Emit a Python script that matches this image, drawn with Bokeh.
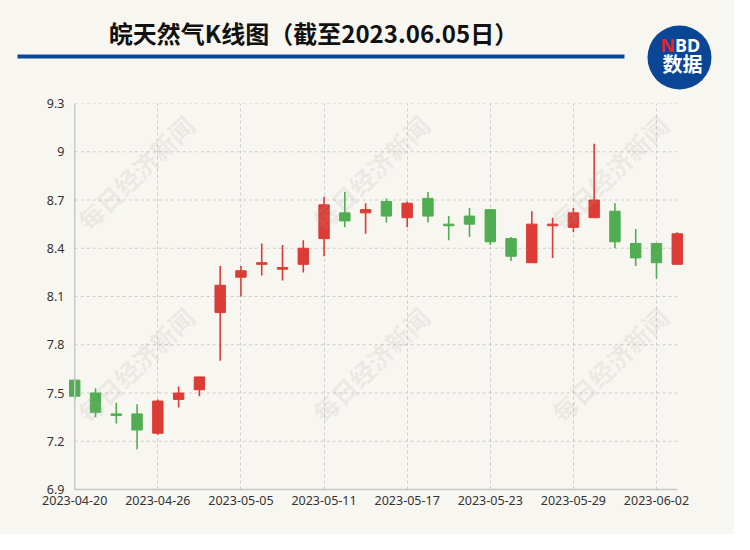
from bokeh.plotting import figure
from bokeh.layouts import column
from bokeh.models import (ColumnDataSource, Range1d, FixedTicker, Span, Label,
                          BoxAnnotation)
from bokeh.embed import file_html
from bokeh.resources import INLINE

# ---- data ----
dates = ["2023-04-20", "2023-04-21", "2023-04-24", "2023-04-25", "2023-04-26",
         "2023-04-27", "2023-04-28", "2023-05-04", "2023-05-05", "2023-05-08",
         "2023-05-09", "2023-05-10", "2023-05-11", "2023-05-12", "2023-05-15",
         "2023-05-16", "2023-05-17", "2023-05-18", "2023-05-19", "2023-05-22",
         "2023-05-23", "2023-05-24", "2023-05-25", "2023-05-26", "2023-05-29",
         "2023-05-30", "2023-05-31", "2023-06-01", "2023-06-02", "2023-06-05"]
open_ = [7.58, 7.50, 7.37, 7.37, 7.25, 7.46, 7.52, 8.00, 8.22, 8.30,
         8.27, 8.30, 8.46, 8.62, 8.62, 8.69, 8.59, 8.71, 8.55, 8.60,
         8.64, 8.46, 8.31, 8.54, 8.53, 8.59, 8.63, 8.43, 8.43, 8.30]
high = [7.59, 7.53, 7.44, 7.43, 7.46, 7.54, 7.60, 8.29, 8.29, 8.43,
        8.42, 8.45, 8.72, 8.75, 8.68, 8.71, 8.69, 8.75, 8.60, 8.65,
        8.64, 8.47, 8.63, 8.59, 8.65, 9.05, 8.68, 8.52, 8.43, 8.50]
low = [7.46, 7.35, 7.31, 7.15, 7.24, 7.41, 7.48, 7.70, 8.10, 8.23,
       8.20, 8.25, 8.35, 8.53, 8.49, 8.56, 8.53, 8.56, 8.45, 8.47,
       8.42, 8.32, 8.31, 8.34, 8.50, 8.59, 8.40, 8.29, 8.21, 8.30]
close = [7.48, 7.38, 7.36, 7.27, 7.45, 7.50, 7.60, 8.17, 8.26, 8.31,
         8.28, 8.40, 8.67, 8.57, 8.64, 8.60, 8.68, 8.60, 8.54, 8.55,
         8.44, 8.35, 8.55, 8.55, 8.62, 8.70, 8.44, 8.34, 8.31, 8.49]
y_ticks = [6.9, 7.2, 7.5, 7.8, 8.1, 8.4, 8.7, 9.0, 9.3]
y_labels = ["6.9", "7.2", "7.5", "7.8", "8.1", "8.4", "8.7", "9", "9.3"]
x_tick_idx = [0, 4, 8, 12, 16, 20, 24, 28]

title_text = "皖天然气K线图（截至2023.06.05日）"
watermark = "每日经济新闻"

# ---- styles ----
BG = "#f8f6f1"
UP = "#dc3c35"
DOWN = "#50ad52"
GRID = "#cccccc"
AXIS = "#c8c8c8"
BLUE = "#0b4596"
FONT = "Noto Sans CJK SC"
LFONT = "Noto Sans"
W = 734
HEAD_H = 95
MAIN_H = 534 - HEAD_H
WM_X = (135, 370, 609)
WM_Y = (172, 364)          # page y - 8

# ---- header ----
h = figure(width=W, height=HEAD_H, x_range=Range1d(0, W), y_range=Range1d(0, HEAD_H),
           output_backend="svg", toolbar_location=None,
           x_axis_location=None, y_axis_location=None,
           min_border=0, background_fill_color=BG, border_fill_color=BG,
           outline_line_color=None)
h.frame_align = False
h.xgrid.visible = False
h.ygrid.visible = False
h.add_layout(Label(x=313, y=32, x_units="canvas", y_units="canvas", text=title_text,
                   text_align="center", text_baseline="middle", text_font=FONT,
                   text_font_size="24px", text_font_style="bold",
                   text_color="#111111"))
h.add_layout(BoxAnnotation(left=17, right=624, top=54, bottom=58,
                           left_units="canvas", right_units="canvas",
                           top_units="canvas", bottom_units="canvas",
                           fill_color=BLUE, fill_alpha=1, line_color=None))
h.add_layout(BoxAnnotation(left=647, right=711, top=25, bottom=89,
                           left_units="canvas", right_units="canvas",
                           top_units="canvas", bottom_units="canvas",
                           border_radius=32,
                           fill_color=BLUE, fill_alpha=1, line_color=None))
h.add_layout(Label(x=674.5, y=44, x_units="canvas", y_units="canvas", text="N",
                   text_align="right", text_baseline="middle", text_font=LFONT,
                   text_font_size="18px", text_font_style="bold",
                   text_color="#e5242b"))
h.add_layout(Label(x=674.5, y=44, x_units="canvas", y_units="canvas", text="BD",
                   text_align="left", text_baseline="middle", text_font=LFONT,
                   text_font_size="18px", text_font_style="bold",
                   text_color="#ffffff"))
h.add_layout(Label(x=682, y=63, x_units="canvas", y_units="canvas", text="数据",
                   text_align="center", text_baseline="middle", text_font=FONT,
                   text_font_size="20px", text_font_style="bold",
                   text_color="#ffffff"))

# ---- main chart ----
n = len(dates)
idx = list(range(n))
colors = [UP if c >= o else DOWN for o, c in zip(open_, close)]
src = ColumnDataSource(dict(
    x=idx, open=open_, close=close, high=high, low=low,
    top=[max(o, c) for o, c in zip(open_, close)],
    bottom=[min(o, c) for o, c in zip(open_, close)],
    color=colors))

p = figure(width=W, height=MAIN_H,
           x_range=Range1d(-0.3, n - 1 + 0.3), y_range=Range1d(y_ticks[0], y_ticks[-1]),
           output_backend="svg", toolbar_location=None,
           min_border_left=68, min_border_right=51, min_border_top=103 - HEAD_H,
           min_border_bottom=45,
           background_fill_color=BG, border_fill_color=BG,
           outline_line_color=None)
p.frame_align = False

p.ygrid.visible = False
p.xgrid.ticker = FixedTicker(ticks=x_tick_idx)
p.xgrid.grid_line_color = GRID
p.xgrid.grid_line_dash = "3 3"
p.xgrid.grid_line_width = 1
p.segment(x0=[0] * len(y_ticks), x1=[n - 1] * len(y_ticks), y0=y_ticks, y1=y_ticks,
          line_color=GRID, line_dash="3 3", line_width=1)

xa = p.xaxis[0]
xa.ticker = FixedTicker(ticks=x_tick_idx)
xa.major_label_overrides = {i: dates[i] for i in x_tick_idx}
xa.bounds = (0, n - 1)
xa.axis_line_color = AXIS
xa.axis_line_width = 1.5
xa.major_tick_line_color = None
xa.minor_tick_line_color = None
xa.major_tick_out = 0
xa.major_tick_in = 0
xa.major_label_standoff = 6
xa.major_label_text_font = LFONT
xa.major_label_text_font_size = "12.5px"
xa.major_label_text_color = "#333333"

ya = p.yaxis[0]
ya.ticker = FixedTicker(ticks=y_ticks)
ya.major_label_overrides = {t: l for t, l in zip(y_ticks, y_labels)}
ya.axis_line_color = None
ya.major_tick_line_color = None
ya.minor_tick_line_color = None
ya.major_tick_out = 0
ya.major_tick_in = 0
ya.major_label_standoff = 4
ya.major_label_text_font = LFONT
ya.major_label_text_font_size = "12.5px"
ya.major_label_text_color = "#333333"

p.add_layout(Span(location=0, dimension="height", line_color=AXIS, line_width=1.5))

p.segment(x0="x", x1="x", y0="high", y1="low", line_color="color", line_width=1.6,
          source=src)
p.vbar(x="x", width=0.5, top="top", bottom="bottom", fill_color="color",
       line_color="color", line_width=1, source=src)

for cx in WM_X:
    for cy in WM_Y:
        p.add_layout(Label(x=cx, y=cy - HEAD_H, x_units="canvas", y_units="canvas",
                           text=watermark, angle=0.77, text_align="center",
                           text_baseline="middle", text_font=FONT,
                           text_font_size="25px", text_font_style="bold",
                           text_color="#a9a49c", text_alpha=0.17))

layout = column(h, p, spacing=0, background=BG)
open("out.html", "w").write(file_html(layout, INLINE))
